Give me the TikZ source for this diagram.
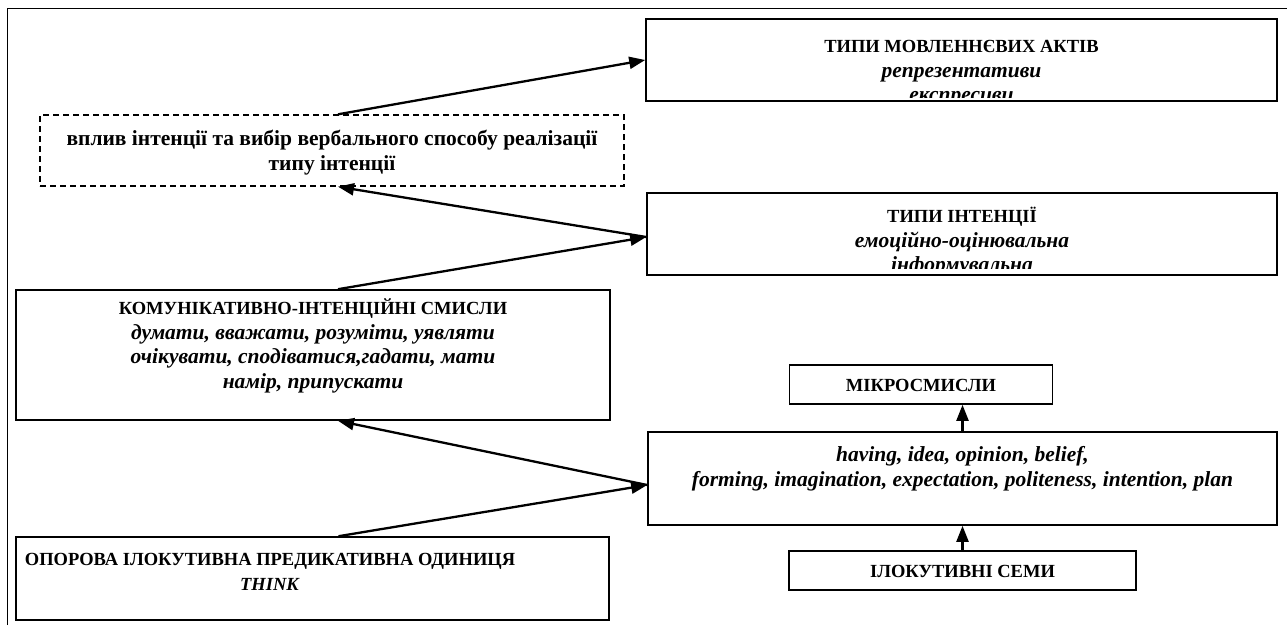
\documentclass[tikz,border=0pt]{standalone}
\usepackage{fontspec}
\setmainfont{Liberation Serif}
\usetikzlibrary{arrows.meta,calc}
\newcommand\captxt[1]{{\fontsize{18.5}{24.5}\selectfont #1}}
\tikzset{
  box/.style={draw, line width=1.6pt, inner sep=0pt, rectangle},
  dbox/.style={box, line width=1.4pt, dash pattern=on 6pt off 4pt},
  txt/.style={align=center, inner sep=0pt, anchor=north, font=\fontsize{21.5}{24.5}\selectfont\bfseries},
  arr/.style={line width=2.3pt, -{Triangle[length=16pt,width=12pt]}},
  frame/.style={line width=1.8pt},
}
\begin{document}
\begin{tikzpicture}[x=1pt,y=-1pt]
\useasboundingbox (0,0) rectangle (1287,625);
\draw[frame] (7.5,625) -- (7.5,8.5) -- (1287,8.5);

% boxes
\node[box, minimum width=631pt, minimum height=82pt] (acts) at (961.5,60) {};
\node[dbox, minimum width=584pt, minimum height=71pt] (dash) at (332,150.5) {};
\node[box, minimum width=630pt, minimum height=82pt] (intent) at (962,234) {};
\node[box, minimum width=594pt, minimum height=130pt] (ki) at (313,355) {};
\node[box, minimum width=263pt, minimum height=39pt] (micro) at (921,384.5) {};
\node[box, minimum width=629pt, minimum height=93pt] (having) at (962.5,478.5) {};
\node[box, minimum width=347pt, minimum height=39pt] (ilok) at (962.5,570.5) {};
\node[box, minimum width=593pt, minimum height=83pt] (bot) at (312.5,578.5) {};

% texts
\begin{scope}
\clip (650,23) rectangle (1273,97);
\node[txt] (actsT) at (961.5,35.5) {\strut\captxt{ТИПИ МОВЛЕННЄВИХ АКТІВ}\\ \textit{репрезентативи}\\ \textit{експресиви}};
\end{scope}
\node[txt] (dashT) at (332,128.5) {\strut вплив інтенції та вибір вербального способу реалізації\\ типу інтенції};
\begin{scope}
\clip (651,197) rectangle (1273,268);
\node[txt] (intentT) at (962,205.5) {\strut\captxt{ТИПИ ІНТЕНЦІЇ}\\ \textit{емоційно-оцінювальна}\\ \textit{інформувальна}};
\end{scope}
\node[txt] (kiT) at (313,297.5) {\strut\captxt{КОМУНІКАТИВНО-ІНТЕНЦІЙНІ СМИСЛИ}\\ \textit{думати, вважати, розуміти, уявляти}\\ \textit{очікувати, сподіватися,гадати, мати}\\ \textit{намір, припускати}};
\node[txt] (microT) at (921,374.5) {\strut\captxt{МІКРОСМИСЛИ}};
\node[txt] (havingT) at (962.5,444.5) {\strut\textit{having, idea, opinion, belief,}\\ \textit{forming, imagination, expectation, politeness, intention, plan}};
\node[txt] (ilokT) at (962.5,560.5) {\strut\captxt{ІЛОКУТИВНІ СЕМИ}};
\node[txt] (botT) at (270,548.5) {\strut\captxt{ОПОРОВА ІЛОКУТИВНА ПРЕДИКАТИВНА ОДИНИЦЯ}\\ \captxt{\textit{THINK}}};

% connectors
\draw[arr] ([xshift=6pt]dash.north) -- (acts.west);
\draw[arr] ([xshift=25pt]ki.north) -- ([yshift=-3pt]intent.west);
\draw[arr] ([yshift=-3pt]intent.west) -- ([xshift=6pt]dash.south);
\draw[arr] ([xshift=26pt]bot.north) -- ([yshift=-6.5pt]having.west);
\draw[arr] ([yshift=-6.5pt]having.west) -- ([xshift=25pt]ki.south);
\draw[arr] (having.north) -- (having.north |- micro.south);
\draw[arr] (ilok.north) -- (ilok.north |- having.south);
\end{tikzpicture}
\end{document}
